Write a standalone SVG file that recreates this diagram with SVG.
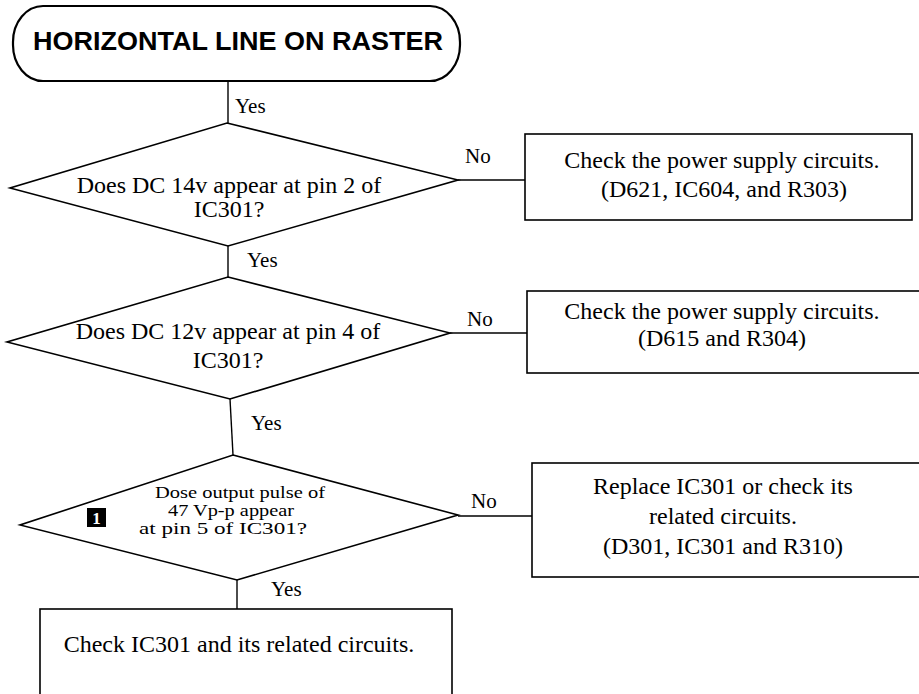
<svg xmlns="http://www.w3.org/2000/svg" width="919" height="694" viewBox="0 0 919 694">
  <style>
    .shape { fill: #ffffff; stroke: #000000; stroke-width: 1.6; stroke-linejoin: miter; }
    .title-shape { fill: #ffffff; stroke: #000000; stroke-width: 2.2; }
    .wire { fill: none; stroke: #000000; stroke-width: 1.4; }
    .title { font-family: "Liberation Sans", Arial, sans-serif; font-weight: bold; font-size: 25px; fill: #000; }
    .txt { font-family: "Liberation Serif", "Times New Roman", serif; font-size: 24px; fill: #000; text-anchor: middle; }
    .small { font-family: "Liberation Serif", "Times New Roman", serif; font-size: 16px; fill: #000; text-anchor: middle; }
    .lbl { font-family: "Liberation Serif", "Times New Roman", serif; font-size: 21px; fill: #000; }
    .badge-num { font-family: "Liberation Serif", "Times New Roman", serif; font-weight: bold; font-size: 17px; fill: #fff; text-anchor: middle; }
  </style>

  <rect width="919" height="694" fill="#ffffff"/>

  <!-- connectors -->
  <g id="connectors">
    <line class="wire" x1="228" y1="81" x2="228" y2="123"/>
    <line class="wire" x1="228" y1="246" x2="228" y2="277"/>
    <line class="wire" x1="230" y1="399" x2="233" y2="455"/>
    <line class="wire" x1="237" y1="580" x2="237" y2="609"/>
    <line class="wire" x1="458" y1="180" x2="525" y2="180"/>
    <line class="wire" x1="450" y1="333" x2="527" y2="333"/>
    <line class="wire" x1="458" y1="516" x2="532" y2="516"/>
    <text class="lbl" x="235" y="113">Yes</text>
    <text class="lbl" x="247" y="267">Yes</text>
    <text class="lbl" x="251" y="430">Yes</text>
    <text class="lbl" x="271" y="596">Yes</text>
    <text class="lbl" x="465" y="163">No</text>
    <text class="lbl" x="467" y="326">No</text>
    <text class="lbl" x="471" y="508">No</text>
  </g>

  <!-- start terminal -->
  <g id="start">
    <rect class="title-shape" x="13" y="6" width="447" height="75" rx="30" ry="36"/>
    <text class="title" x="33" y="50" textLength="410" lengthAdjust="spacingAndGlyphs">HORIZONTAL LINE ON RASTER</text>
  </g>

  <!-- decision: 14v at pin 2 -->
  <g id="check-pin2">
    <polygon class="shape" points="227,123 458,180 228,246 10,188"/>
    <text class="txt" x="229" y="193">Does DC 14v appear at pin 2 of</text>
    <text class="txt" x="229" y="217">IC301?</text>
  </g>

  <g id="power-supply-1">
    <rect class="shape" x="525" y="134" width="387" height="86"/>
    <text class="txt" x="722" y="168">Check the power supply circuits.</text>
    <text class="txt" x="724" y="197">(D621, IC604, and R303)</text>
  </g>

  <!-- decision: 12v at pin 4 -->
  <g id="check-pin4">
    <polygon class="shape" points="228,277 450,333 230,399 7,342"/>
    <text class="txt" x="228" y="339">Does DC 12v appear at pin 4 of</text>
    <text class="txt" x="228" y="368">IC301?</text>
  </g>

  <g id="power-supply-2">
    <rect class="shape" x="527" y="291" width="400" height="82"/>
    <text class="txt" x="722" y="319">Check the power supply circuits.</text>
    <text class="txt" x="722" y="346">(D615 and R304)</text>
  </g>

  <!-- decision: output pulse at pin 5 -->
  <g id="check-pin5">
    <polygon class="shape" points="233,455 458,515 237,580 20,525"/>
    <text class="small" x="240" y="498" textLength="170" lengthAdjust="spacingAndGlyphs">Dose output pulse of</text>
    <text class="small" x="231" y="516" textLength="126" lengthAdjust="spacingAndGlyphs">47 Vp-p appear</text>
    <text class="small" x="223" y="534" textLength="168" lengthAdjust="spacingAndGlyphs">at pin 5 of IC301?</text>
    <rect x="87" y="508" width="19" height="19" fill="#000"/>
    <text class="badge-num" x="96.5" y="524">1</text>
  </g>

  <g id="replace-ic301">
    <rect class="shape" x="532" y="463" width="395" height="114"/>
    <text class="txt" x="723" y="494">Replace IC301 or check its</text>
    <text class="txt" x="723" y="524">related circuits.</text>
    <text class="txt" x="723" y="554">(D301, IC301 and R310)</text>
  </g>

  <g id="check-ic301">
    <rect class="shape" x="40" y="609" width="412" height="95"/>
    <text class="txt" x="239" y="652">Check IC301 and its related circuits.</text>
  </g>
</svg>
